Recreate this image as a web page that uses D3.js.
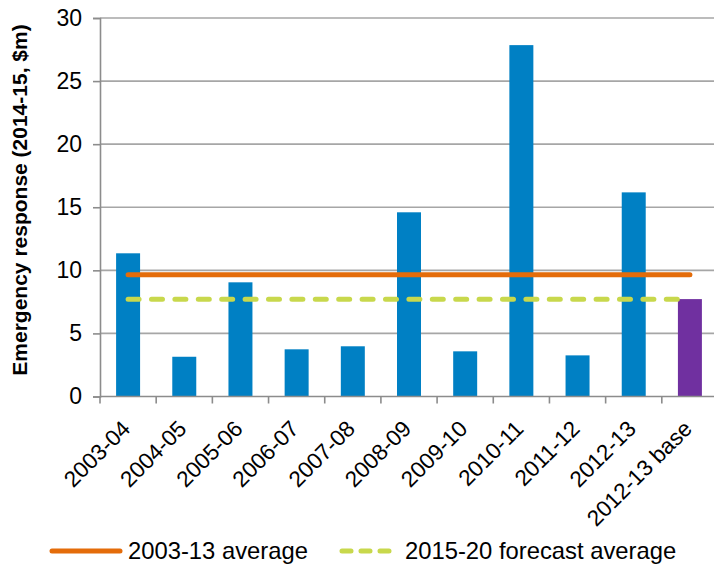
<!DOCTYPE html>
<html>
<head>
<meta charset="utf-8">
<script src="https://cdn.jsdelivr.net/npm/d3@7"></script>
<style>
  html, body { margin: 0; padding: 0; background: #fff; }
  svg { display: block; font-family: "Liberation Sans", Arial, sans-serif; }
</style>
</head>
<body>
<svg id="chart" width="714" height="568"></svg>
<script>
// Emergency response spending by year (2014-15 $m)
const categories = ["2003-04", "2004-05", "2005-06", "2006-07", "2007-08", "2008-09",
                    "2009-10", "2010-11", "2011-12", "2012-13", "2012-13 base"];
const values = [11.35, 3.15, 9.05, 3.74, 3.98, 14.6, 3.58, 27.85, 3.26, 16.18, 7.72];
const historicAverage = 9.65;   // 2003-13 average
const forecastAverage = 7.7;    // 2015-20 forecast average
const yTicks = [0, 5, 10, 15, 20, 25, 30];
const legendLabels = ["2003-13 average", "2015-20 forecast average"];

const svg = d3.select("#chart");
const plotLeft = 100, plotRight = 718, plotTop = 18, plotBottom = 396.5;
const fontSize = 22.5;

const x = d3.scaleBand().domain(categories).range([plotLeft, plotRight])
  .paddingInner(0.573).paddingOuter(0.2865);
const y = d3.scaleLinear().domain([0, 30]).range([plotBottom, plotTop]);

const gridColor = "#a6a6a6";
const axisColor = "#8c8c8c";

// horizontal gridlines
svg.append("g").selectAll("line").data(yTicks.filter(d => d > 0)).join("line")
  .attr("x1", plotLeft).attr("x2", 714)
  .attr("y1", d => y(d)).attr("y2", d => y(d))
  .attr("stroke", gridColor).attr("stroke-width", 1.6);

// bars
svg.append("g").selectAll("rect").data(values).join("rect")
  .attr("x", (d, i) => x(categories[i]))
  .attr("width", x.bandwidth())
  .attr("y", d => y(d))
  .attr("height", d => y(0) - y(d))
  .attr("fill", (d, i) => i === categories.length - 1 ? "#7030A0" : "#0080C4");

// y axis
const yAxis = svg.append("g").attr("transform", `translate(${plotLeft},0)`)
  .call(d3.axisLeft(y).tickValues(yTicks).tickSize(7).tickPadding(11));
yAxis.select(".domain").attr("stroke", axisColor).attr("stroke-width", 1.6);
yAxis.selectAll(".tick line").attr("stroke", axisColor).attr("stroke-width", 1.6);
yAxis.selectAll(".tick text").attr("font-size", 23).attr("fill", "#000")
  .attr("font-family", "Liberation Sans, Arial, sans-serif");

// x axis: ticks at band boundaries
svg.append("line").attr("x1", plotLeft).attr("x2", 714)
  .attr("y1", plotBottom).attr("y2", plotBottom)
  .attr("stroke", axisColor).attr("stroke-width", 1.6);
const boundaries = categories.map(c => x(c) - x.step() * x.paddingOuter());
svg.append("g").selectAll("line").data(boundaries).join("line")
  .attr("x1", d => d).attr("x2", d => d)
  .attr("y1", plotBottom).attr("y2", plotBottom + 7)
  .attr("stroke", axisColor).attr("stroke-width", 1.6);

// rotated category labels
svg.append("g").selectAll("text").data(categories).join("text")
  .attr("transform", d => `translate(${x(d) + x.bandwidth() / 2 - 2},${plotBottom + 28}) rotate(-45)`)
  .attr("text-anchor", "end")
  .attr("dy", "0.35em")
  .attr("font-size", fontSize)
  .attr("fill", "#000")
  .text(d => d);

// y axis title
svg.append("text")
  .attr("transform", `translate(20,200) rotate(-90)`)
  .attr("text-anchor", "middle")
  .attr("dy", "0.35em")
  .attr("font-size", 21)
  .attr("font-weight", "bold")
  .attr("fill", "#000")
  .text("Emergency response (2014-15, $m)");

// average lines
const firstC = x(categories[0]) + x.bandwidth() / 2;
const lastC = x(categories[categories.length - 1]) + x.bandwidth() / 2;
svg.append("line")
  .attr("x1", firstC).attr("x2", lastC)
  .attr("y1", y(historicAverage)).attr("y2", y(historicAverage))
  .attr("stroke", "#E46C0A").attr("stroke-width", 5).attr("stroke-linecap", "round");
svg.append("line")
  .attr("x1", firstC).attr("x2", lastC - 3)
  .attr("y1", y(forecastAverage)).attr("y2", y(forecastAverage))
  .attr("stroke", "#C8D84C").attr("stroke-width", 5).attr("stroke-linecap", "round")
  .attr("stroke-dasharray", "11 12.4");

// legend
const legY = 551;
const legFont = 23.8;
const leg = svg.append("g");
leg.append("line").attr("x1", 52).attr("x2", 120).attr("y1", legY).attr("y2", legY)
  .attr("stroke", "#E46C0A").attr("stroke-width", 5).attr("stroke-linecap", "round");
leg.append("text").attr("x", 128).attr("y", legY).attr("dy", "0.35em")
  .attr("font-size", legFont).attr("fill", "#000").text(legendLabels[0]);
leg.append("line").attr("x1", 342).attr("x2", 389).attr("y1", legY).attr("y2", legY)
  .attr("stroke", "#C8D84C").attr("stroke-width", 5).attr("stroke-linecap", "round")
  .attr("stroke-dasharray", "9 10");
leg.append("text").attr("x", 405).attr("y", legY).attr("dy", "0.35em")
  .attr("font-size", legFont).attr("fill", "#000").text(legendLabels[1]);
</script>
</body>
</html>
